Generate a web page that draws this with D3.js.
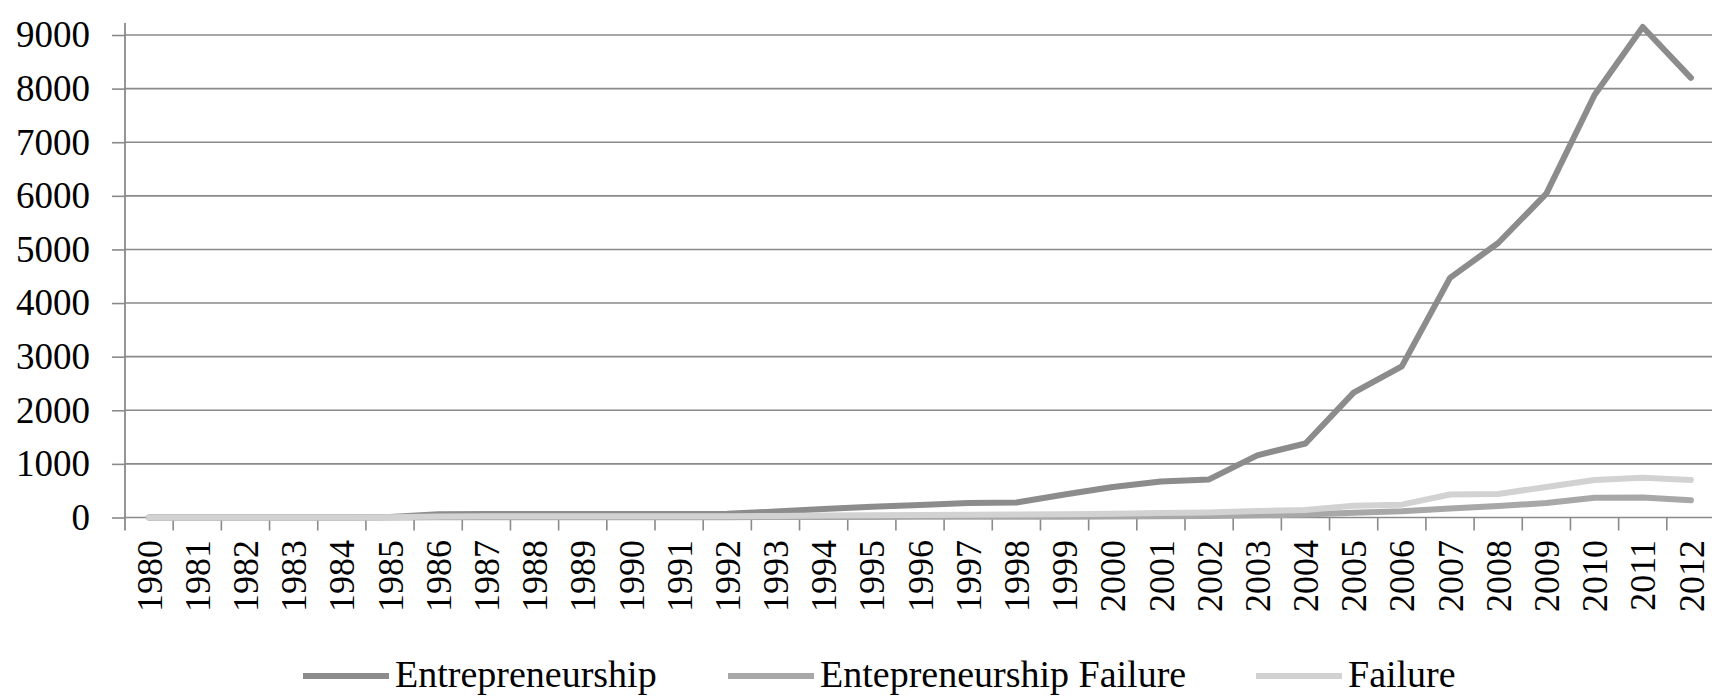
<!DOCTYPE html>
<html>
<head>
<meta charset="utf-8">
<script src="https://cdn.jsdelivr.net/npm/d3@7"></script>
<style>
    html, body { margin: 0; padding: 0; background: #fff; }
    svg { display: block; }
    text { font-family: "Liberation Serif", "Times New Roman", serif; fill: #000; }
</style>
</head>
<body>
<div id="chart"></div>
<script>
// chart values
const years = ["1980", "1981", "1982", "1983", "1984", "1985", "1986", "1987", "1988", "1989",
    "1990", "1991", "1992", "1993", "1994", "1995", "1996", "1997", "1998", "1999",
    "2000", "2001", "2002", "2003", "2004", "2005", "2006", "2007", "2008", "2009",
    "2010", "2011", "2012"];

const entrepreneurship = [0, 0, 0, 0, 0, 10, 60, 65, 65, 65,
    65, 65, 70, 110, 160, 200, 235, 270, 280, 430,
    570, 670, 710, 1160, 1380, 2330, 2820, 4470, 5120, 6040,
    7880, 9150, 8200];

const entFailure = [0, 0, 0, 0, 0, 0, 5, 5, 5, 5,
    5, 5, 5, 8, 10, 10, 12, 12, 14, 15,
    20, 25, 30, 40, 55, 90, 115, 170, 215, 270,
    370, 375, 320];

const failure = [0, 0, 0, 0, 0, 5, 20, 25, 25, 25,
    25, 25, 25, 30, 35, 40, 45, 50, 55, 60,
    70, 85, 95, 120, 140, 220, 240, 430, 440, 570,
    700, 740, 700];

const yTicks = [0, 1000, 2000, 3000, 4000, 5000, 6000, 7000, 8000, 9000];

const seriesNames = ["Entrepreneurship", "Entepreneurship Failure", "Failure"];
const seriesColors = ["#8c8c8c", "#a8a8a8", "#d2d2d2"];

function init() {
    const w = 1712;
    const h = 697;

    const svg = d3.select("#chart")
        .append("svg")
        .attr("width", w)
        .attr("height", h);

    const x = d3.scaleBand()
        .domain(years)
        .range([125, 1715])
        .padding(0);

    const y = d3.scaleLinear()
        .domain([0, 9000])
        .range([517.5, 35]);

    const gridColor = "#8a8a8a";

    // horizontal grid lines
    svg.append("g")
        .selectAll("line")
        .data(yTicks)
        .enter()
        .append("line")
        .attr("x1", 125)
        .attr("x2", w)
        .attr("y1", d => y(d))
        .attr("y2", d => y(d))
        .attr("stroke", gridColor)
        .attr("stroke-width", 1.6);

    // y axis (ticks + labels)
    const yAxis = svg.append("g")
        .attr("transform", "translate(125,0)")
        .call(d3.axisLeft(y).tickValues(yTicks).tickFormat(d3.format("d")).tickSize(13).tickPadding(22));
    yAxis.select(".domain").remove();
    yAxis.selectAll(".tick line").attr("stroke", gridColor).attr("stroke-width", 1.6);
    yAxis.selectAll("text")
        .style("font-family", "\"Liberation Serif\", serif")
        .style("font-size", "37px")
        .attr("fill", "#000");

    // vertical axis line
    svg.append("line")
        .attr("x1", 125).attr("x2", 125)
        .attr("y1", 23).attr("y2", y(0) + 13)
        .attr("stroke", gridColor)
        .attr("stroke-width", 1.8);

    // x ticks sit between categories
    const bounds = years.map(d => x(d)).concat([x(years[years.length - 1]) + x.bandwidth()]);
    svg.append("g")
        .selectAll("line")
        .data(bounds.slice(1))
        .enter()
        .append("line")
        .attr("x1", d => d).attr("x2", d => d)
        .attr("y1", y(0)).attr("y2", y(0) + 13)
        .attr("stroke", gridColor)
        .attr("stroke-width", 1.6);

    // x labels, rotated
    svg.append("g")
        .selectAll("text")
        .data(years)
        .enter()
        .append("text")
        .attr("transform", d => "translate(" + (x(d) + x.bandwidth() / 2) + "," + 540 + ") rotate(-90)")
        .attr("text-anchor", "end")
        .attr("dy", "0.35em")
        .style("font-size", "36px")
        .text(d => d);

    // lines
    const allSeries = [entrepreneurship, entFailure, failure];
    const line = d3.line()
        .x((d, i) => x(years[i]) + x.bandwidth() / 2)
        .y(d => y(d));

    svg.append("g")
        .selectAll("path")
        .data(allSeries)
        .enter()
        .append("path")
        .attr("d", d => line(d))
        .attr("fill", "none")
        .attr("stroke", (d, i) => seriesColors[i])
        .attr("stroke-width", 6)
        .attr("stroke-linejoin", "round")
        .attr("stroke-linecap", "round");

    // legend
    const legendX = [303, 728, 1256];
    const legend = svg.append("g")
        .selectAll("g")
        .data(seriesNames)
        .enter()
        .append("g")
        .attr("transform", (d, i) => "translate(" + legendX[i] + ",0)");

    legend.append("line")
        .attr("x1", 0).attr("x2", 86)
        .attr("y1", 676).attr("y2", 676)
        .attr("stroke", (d, i) => seriesColors[i])
        .attr("stroke-width", 6);

    legend.append("text")
        .attr("x", 92)
        .attr("y", 687)
        .style("font-size", "38px")
        .text(d => d);
}

window.onload = init;
</script>
</body>
</html>
